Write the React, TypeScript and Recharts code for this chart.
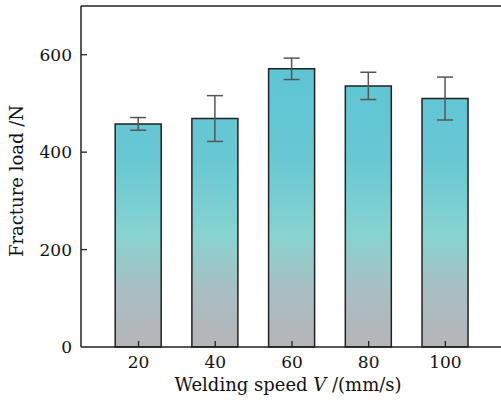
import React from "react";
import { BarChart, Bar, XAxis, YAxis, ErrorBar, ReferenceLine, Label } from "recharts";

const speeds = [20, 40, 60, 80, 100];
const loads = [458, 469, 571, 536, 510];
const errs = [13, 47, 22, 28, 44];
const yTicks = [0, 200, 400, 600];

const data = speeds.map((s, i) => ({ speed: s, load: loads[i], err: errs[i] }));

const FONT = "DejaVu Serif";
const AX = "#222";

const YTick = (props: any) => {
  const { x, y, payload } = props;
  return (
    <g>
      {payload.value !== 0 && <line x1={x} x2={x + 6} y1={y} y2={y} stroke={AX} strokeWidth={1.3} />}
      <text x={x - 9} y={y} dy="0.36em" textAnchor="end" style={{ fontFamily: FONT }} fontSize={17} fill="#111">
        {payload.value}
      </text>
    </g>
  );
};

const XTick = (props: any) => {
  const { x, y, payload } = props;
  return (
    <g>
      <line x1={x} x2={x} y1={y} y2={y - 6} stroke={AX} strokeWidth={1.3} />
      <text x={x} y={y + 15} dy="0.36em" textAnchor="middle" style={{ fontFamily: FONT }} fontSize={17} fill="#111">
        {payload.value}
      </text>
    </g>
  );
};

export default function App() {
  return (
    <div style={{ position: "absolute", left: 0, top: 0, width: 501, height: 405, background: "#fff" }}>
      <BarChart width={501} height={405} data={data} margin={{ top: 6, right: 0, bottom: 0, left: 0 }}>
        <defs>
          <linearGradient id="barGrad" gradientUnits="userSpaceOnUse" x1="0" y1="55" x2="0" y2="347">
            <stop offset="0" stopColor="#5ec4d3" />
            <stop offset="0.35" stopColor="#67c8d3" />
            <stop offset="0.62" stopColor="#88d3d0" />
            <stop offset="0.8" stopColor="#a8bfc3" />
            <stop offset="1" stopColor="#b6b4b9" />
          </linearGradient>
        </defs>
        <XAxis
          dataKey="speed"
          type="number"
          domain={[5, 114.5]}
          ticks={speeds}
          allowDataOverflow
          height={58}
          tickSize={0}
          tickMargin={0}
          tickLine={false}
          axisLine={{ stroke: AX, strokeWidth: 1.5 }}
          tick={<XTick />}
          interval={0}
        >
          <Label
            content={() => (
              <text x={288} y={385} dy="0.36em" textAnchor="middle" style={{ fontFamily: FONT }} fontSize={18} fill="#111">
                Welding speed <tspan fontStyle="italic">V</tspan> /(mm/s)
              </text>
            )}
          />
        </XAxis>
        <YAxis
          domain={[0, 700]}
          ticks={yTicks}
          width={81}
          tickSize={0}
          tickMargin={0}
          tickLine={false}
          axisLine={{ stroke: AX, strokeWidth: 1.5 }}
          tick={<YTick />}
          interval={0}
        >
          <Label
            content={() => (
              <text
                x={17}
                y={181}
                transform="rotate(-90, 17, 181)"
                dy="0.36em"
                textAnchor="middle"
                style={{ fontFamily: FONT }}
                fontSize={18}
                fill="#111"
              >
                Fracture load /N
              </text>
            )}
          />
        </YAxis>
        <ReferenceLine y={700} stroke={AX} strokeWidth={1.5} ifOverflow="extendDomain" />
        <Bar dataKey="load" barSize={46} fill="url(#barGrad)" stroke="#222" strokeWidth={1.5} isAnimationActive={false}>
          <ErrorBar dataKey="err" width={8} stroke="#555" strokeWidth={1.5} direction="y" />
        </Bar>
      </BarChart>
    </div>
  );
}
